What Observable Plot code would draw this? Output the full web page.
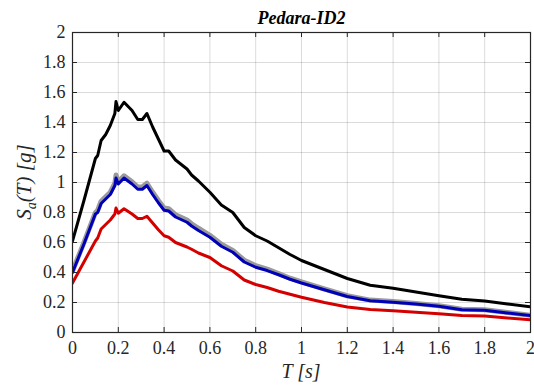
<!DOCTYPE html>
<html>
<head>
<meta charset="utf-8">
<script src="https://cdn.jsdelivr.net/npm/d3@7"></script>
<script src="https://cdn.jsdelivr.net/npm/@observablehq/plot@0.6"></script>
</head>
<body style="margin:0;background:#fff">
<div id="chart"></div>
<script>
const title = "Pedara-ID2";
const xTicks = [0, 0.2, 0.4, 0.6, 0.8, 1, 1.2, 1.4, 1.6, 1.8, 2];
const yTicks = [0, 0.2, 0.4, 0.6, 0.8, 1, 1.2, 1.4, 1.6, 1.8, 2];
const periods = [0, 0.05, 0.1, 0.11, 0.125, 0.145, 0.165, 0.175, 0.185, 0.19, 0.2, 0.225, 0.26, 0.285, 0.305, 0.325, 0.35, 0.375, 0.4, 0.42, 0.45, 0.5, 0.52, 0.55, 0.6, 0.65, 0.7, 0.75, 0.8, 0.85, 0.9, 0.95, 1.0, 1.1, 1.2, 1.3, 1.4, 1.5, 1.6, 1.7, 1.8, 1.9, 2.0];
const blackSa = [0.61, 0.88, 1.16, 1.18, 1.28, 1.32, 1.38, 1.42, 1.46, 1.54, 1.48, 1.535, 1.48, 1.42, 1.42, 1.46, 1.37, 1.29, 1.21, 1.21, 1.15, 1.09, 1.05, 1.01, 0.935, 0.85, 0.80, 0.70, 0.645, 0.61, 0.565, 0.52, 0.48, 0.42, 0.36, 0.315, 0.295, 0.27, 0.245, 0.222, 0.21, 0.19, 0.172];
const graySa = [0.41, 0.60, 0.80, 0.815, 0.875, 0.905, 0.935, 0.965, 0.995, 1.05, 1.005, 1.045, 1.005, 0.97, 0.97, 0.995, 0.935, 0.88, 0.83, 0.825, 0.785, 0.75, 0.725, 0.695, 0.648, 0.588, 0.547, 0.482, 0.445, 0.422, 0.393, 0.362, 0.337, 0.29, 0.245, 0.216, 0.206, 0.193, 0.178, 0.155, 0.151, 0.133, 0.115];
const blueSa = [0.40, 0.59, 0.79, 0.80, 0.86, 0.89, 0.92, 0.95, 0.98, 1.03, 0.99, 1.03, 0.99, 0.955, 0.955, 0.98, 0.92, 0.865, 0.815, 0.81, 0.77, 0.735, 0.71, 0.68, 0.635, 0.575, 0.535, 0.47, 0.435, 0.413, 0.385, 0.355, 0.33, 0.285, 0.24, 0.212, 0.202, 0.19, 0.175, 0.152, 0.148, 0.13, 0.113];
const redSa = [0.33, 0.47, 0.61, 0.63, 0.69, 0.72, 0.75, 0.77, 0.79, 0.83, 0.795, 0.825, 0.79, 0.76, 0.76, 0.775, 0.73, 0.685, 0.645, 0.635, 0.60, 0.57, 0.555, 0.53, 0.50, 0.445, 0.41, 0.35, 0.32, 0.30, 0.275, 0.255, 0.235, 0.20, 0.17, 0.153, 0.145, 0.135, 0.125, 0.113, 0.11, 0.097, 0.085];

const series = [
  {values: graySa, stroke: "#9a9a9a", width: 5},
  {values: blueSa, stroke: "#0000b8", width: 3},
  {values: blackSa, stroke: "#000000", width: 3},
  {values: redSa, stroke: "#d40000", width: 3}
];
const toRows = vals => periods.map((t, i) => ({T: t, Sa: vals[i]}));

const W = 534, H = 389;
const tickLen = 5;
const ml = 72, mr = 4, mt = 32, mb = 57;
const xPerPx = 2 / (W - ml - mr);
const yPerPx = 2 / (H - mt - mb);
const axisColor = "#262626";
const serif = "Liberation Serif";

const plot = Plot.plot({
  width: W, height: H,
  marginLeft: ml, marginRight: mr, marginTop: mt, marginBottom: mb,
  x: {domain: [0, 2], ticks: xTicks},
  y: {domain: [0, 2], ticks: yTicks},
  marks: [
    Plot.gridX(xTicks, {stroke: "#000", strokeOpacity: 0.14, strokeWidth: 1}),
    Plot.gridY(yTicks, {stroke: "#000", strokeOpacity: 0.14, strokeWidth: 1}),
    ...series.map(s => Plot.line(toRows(s.values), {x: "T", y: "Sa", stroke: s.stroke, strokeWidth: s.width, strokeLinejoin: "round", clip: true})),
    Plot.frame({stroke: axisColor, strokeWidth: 1.2}),
    Plot.ruleX(xTicks, {y1: 0, y2: tickLen * yPerPx, stroke: axisColor}),
    Plot.ruleX(xTicks, {y1: 2 - tickLen * yPerPx, y2: 2, stroke: axisColor}),
    Plot.ruleY(yTicks, {x1: 0, x2: tickLen * xPerPx, stroke: axisColor}),
    Plot.ruleY(yTicks, {x1: 2 - tickLen * xPerPx, x2: 2, stroke: axisColor}),
    Plot.axisX(xTicks, {tickSize: 0, tickPadding: 9, fontSize: 18, fontFamily: serif, fill: axisColor, label: null, tickFormat: d => String(d)}),
    Plot.axisY(yTicks, {tickSize: 0, tickPadding: 7, fontSize: 18, fontFamily: serif, fill: axisColor, label: null, tickFormat: d => String(d)}),
    Plot.text([title], {frameAnchor: "top", dy: -9, fontSize: 18, fontFamily: serif, fontWeight: "bold", fontStyle: "italic", fill: "#000", lineAnchor: "bottom"})
  ]
});
document.getElementById("chart").appendChild(plot);

// axis titles with italic/subscript styling
const svg = d3.select(plot);
const cx = ml + (W - ml - mr) / 2;
const cy = mt + (H - mt - mb) / 2;
svg.append("text")
  .attr("x", cx).attr("y", 378)
  .attr("text-anchor", "middle").attr("font-family", serif)
  .attr("font-size", 20).attr("font-style", "italic").attr("fill", axisColor)
  .text("T [s]");
const yl = svg.append("text")
  .attr("transform", `translate(31,${cy}) rotate(-90)`)
  .attr("text-anchor", "middle").attr("font-family", serif)
  .attr("font-size", 21).attr("font-style", "italic").attr("fill", axisColor);
yl.append("tspan").text("S");
yl.append("tspan").attr("font-size", 14).attr("dy", 5).text("a");
yl.append("tspan").attr("dy", -5).text("(T) [g]");
</script>
</body>
</html>
